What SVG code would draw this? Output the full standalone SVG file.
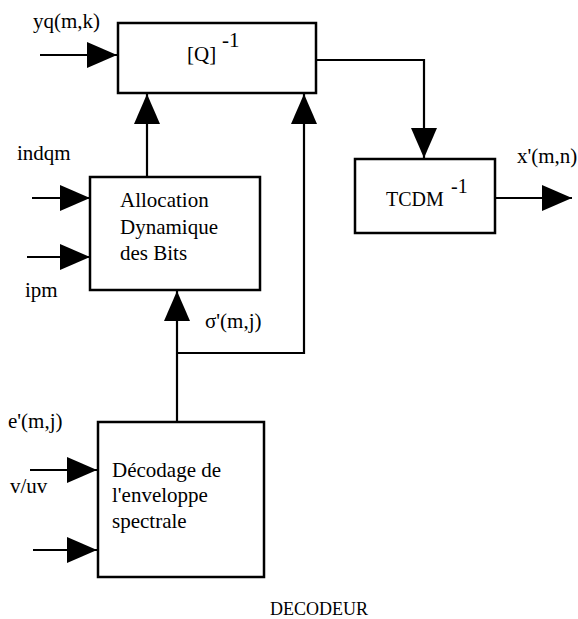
<svg xmlns="http://www.w3.org/2000/svg" width="578" height="619" viewBox="0 0 578 619">
<style>
.box{fill:#fff;stroke:#000;stroke-width:2.5}
.ln{fill:none;stroke:#000;stroke-width:2.2}
.t{font-family:'Liberation Serif','DejaVu Serif',serif;font-size:21px;fill:#000}
</style>
<defs>
<marker id="ah" markerWidth="30" markerHeight="26" refX="30" refY="13" orient="auto" markerUnits="userSpaceOnUse">
<path d="M0,0 L30,13 L0,26 Z" fill="#000"/>
</marker>
</defs>
<rect width="578" height="619" fill="#fff"/>
<g id="connectors">
<path class="ln" d="M40,55 L117,55" marker-end="url(#ah)"/>
<path class="ln" d="M147,177 L147,94" marker-end="url(#ah)"/>
<path class="ln" d="M316,60 L424,60 L424,158" marker-end="url(#ah)"/>
<path class="ln" d="M495,198 L572,198" marker-end="url(#ah)"/>
<path class="ln" d="M32,198 L90,198" marker-end="url(#ah)"/>
<path class="ln" d="M27,257 L90,257" marker-end="url(#ah)"/>
<path class="ln" d="M177,422 L177,291" marker-end="url(#ah)"/>
<path class="ln" d="M177,353 L304,353 L304,94" marker-end="url(#ah)"/>
<path class="ln" d="M30,470 L97,470" marker-end="url(#ah)"/>
<path class="ln" d="M33,550 L97,550" marker-end="url(#ah)"/>
</g>
<g id="q" font-family="Liberation Serif, serif">
<rect class="box" x="118" y="23" width="198" height="70"/>
<text class="t" x="187" y="61">[Q]</text>
<text class="t" x="222" y="47">-1</text>
</g>
<g id="tcdm">
<rect class="box" x="355" y="159" width="140" height="74"/>
<text class="t" x="386" y="206" style="font-size:20px">TCDM</text>
<text class="t" x="451" y="193" style="font-size:20px">-1</text>
</g>
<g id="alloc">
<rect class="box" x="90" y="177" width="170" height="113"/>
<text class="t" x="120" y="207">Allocation</text>
<text class="t" x="120" y="234">Dynamique</text>
<text class="t" x="120" y="260">des Bits</text>
</g>
<g id="decod">
<rect class="box" x="98" y="422" width="166" height="155"/>
<text class="t" x="112" y="477">Décodage de</text>
<text class="t" x="112" y="502">l'enveloppe</text>
<text class="t" x="112" y="528">spectrale</text>
</g>
<g id="labels">
<text class="t" x="33" y="28">yq(m,k)</text>
<text class="t" x="17" y="160">indqm</text>
<text class="t" x="25" y="297">ipm</text>
<text class="t" x="205" y="328">σ'(m,j)</text>
<text class="t" x="517" y="163">x'(m,n)</text>
<text class="t" x="8" y="428">e'(m,j)</text>
<text class="t" x="10" y="493">v/uv</text>
<text class="t" x="270" y="615" style="font-size:18px">DECODEUR</text>
</g>
</svg>
